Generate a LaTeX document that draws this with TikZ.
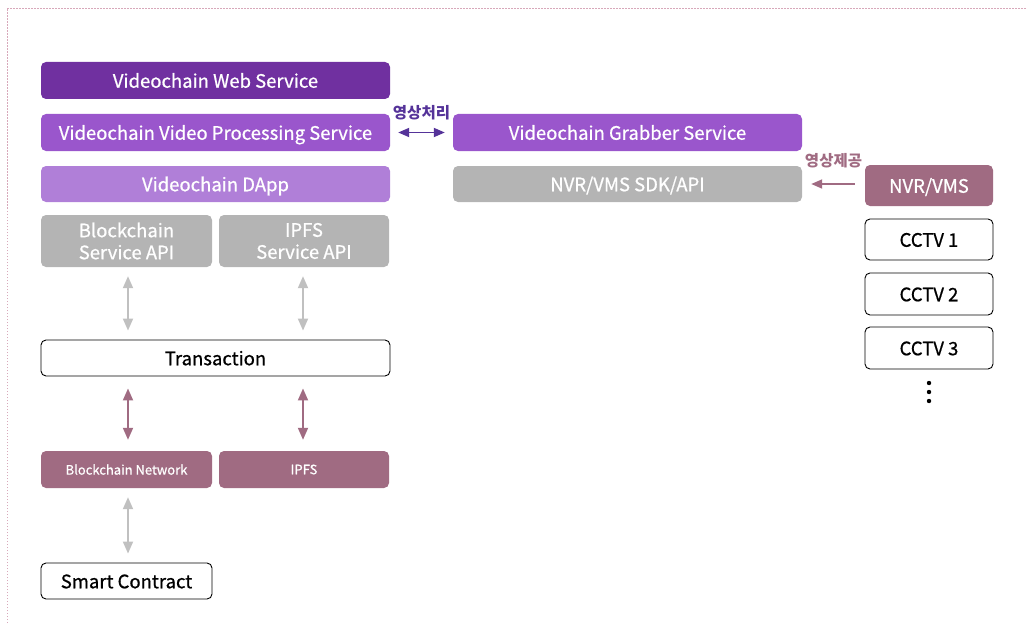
\documentclass[tikz,border=0pt]{standalone}
\usepackage{fontspec}
\setmainfont{Noto Sans CJK KR}
\newfontfamily\medfont{Noto Sans CJK KR}[FakeBold=0.7]
\usetikzlibrary{arrows.meta}
\definecolor{dpurple}{HTML}{7030A0}
\definecolor{mpurple}{HTML}{9A56CC}
\definecolor{lpurple}{HTML}{B07FD8}
\definecolor{boxgray}{HTML}{B4B4B4}
\definecolor{mauve}{HTML}{A06B82}
\definecolor{arrgray}{HTML}{C0C0C0}
\definecolor{labpurple}{HTML}{553399}
\definecolor{bordpink}{HTML}{D8A8BA}
\tikzset{
  base/.style={rounded corners=5pt, inner sep=0pt, align=center, font=\medfont\fontsize{18.5}{22}\selectfont},
  one/.style={text height=15pt, text depth=0.5pt},
  fillbox/.style={base, fill=#1, text=white},
  whitebox/.style={base, one, draw=black, line width=0.9pt, fill=white, text=black},
  smallbox/.style={base, fill=mauve, text=white, font=\medfont\fontsize{13}{16}\selectfont},
  grayarr/.style={draw=arrgray, line width=1.8pt, {Triangle[width=10pt,length=12pt]}-{Triangle[width=10pt,length=12pt]}, shorten <=9pt, shorten >=9pt},
  mauvearr/.style={draw=mauve, line width=1.8pt, {Triangle[width=10pt,length=12pt]}-{Triangle[width=10pt,length=12pt]}, shorten <=12pt, shorten >=11pt},
  lab/.style={font=\fontsize{15.5}{17}\selectfont\bfseries, inner sep=0pt}
}
\begin{document}
\begin{tikzpicture}[x=1pt,y=-1pt]
\useasboundingbox (0,0) rectangle (1027,623);
\draw[bordpink, line width=0.8pt, dash pattern=on 1.5pt off 1.5pt] (7,623) -- (7,8) -- (1027,8);

\node[fillbox=dpurple, one, minimum width=349pt, minimum height=37pt] (web) at (215.5,80.5) {Videochain Web Service};
\node[fillbox=mpurple, one, minimum width=349pt, minimum height=37pt] (vps) at (215.5,132.5) {Videochain Video Processing Service};
\node[fillbox=lpurple, one, minimum width=349pt, minimum height=36pt] (dapp) at (215.5,184) {Videochain DApp};
\node[fillbox=boxgray, minimum width=171pt, minimum height=52pt] (bsa) at (126.5,241) {Blockchain\\Service API};
\node[fillbox=boxgray, minimum width=170pt, minimum height=52pt] (isa) at (304,241) {IPFS\\Service API};
\node[whitebox, minimum width=349pt, minimum height=36pt] (tx) at (215.5,358) {Transaction};
\node[smallbox, minimum width=171pt, minimum height=37pt] (bcn) at (126.5,469.5) {Blockchain Network};
\node[smallbox, minimum width=170pt, minimum height=37pt] (ipfs) at (304,469.5) {IPFS};
\node[whitebox, minimum width=171pt, minimum height=36pt] (sc) at (126.5,581) {Smart Contract};

\node[fillbox=mpurple, one, minimum width=349pt, minimum height=37pt] (grab) at (627.5,132.5) {Videochain Grabber Service};
\node[fillbox=boxgray, one, minimum width=349pt, minimum height=36pt] (sdk) at (627.5,184) {NVR/VMS SDK/API};

\node[fillbox=mauve, one, minimum width=128pt, minimum height=41pt] (nvr) at (929,185.5) {NVR/VMS};
\node[whitebox, minimum width=128pt, minimum height=41pt] (c1) at (929,239.5) {CCTV 1};
\node[whitebox, minimum width=128pt, minimum height=42pt] (c2) at (929,294) {CCTV 2};
\node[whitebox, minimum width=128pt, minimum height=42pt] (c3) at (929,348) {CCTV 3};
\coordinate (dots) at (929,392);
\fill (dots) ++(0,-9) circle (2.2pt) (dots) circle (2.2pt) (dots) ++(0,9) circle (2.2pt);

\draw[grayarr] ([xshift=1.5pt]bsa.south) -- ([xshift=1.5pt]bsa.south |- tx.north);
\draw[grayarr] ([xshift=-1pt]isa.south) -- ([xshift=-1pt]isa.south |- tx.north);
\draw[mauvearr] ([xshift=1.5pt]bcn.north |- tx.south) -- ([xshift=1.5pt]bcn.north);
\draw[mauvearr] ([xshift=-1pt]ipfs.north |- tx.south) -- ([xshift=-1pt]ipfs.north);
\draw[grayarr] ([xshift=1.5pt]bcn.south) -- ([xshift=1.5pt]sc.north);

\draw[draw=labpurple, line width=1.8pt, {Triangle[width=9pt,length=11pt]}-{Triangle[width=9pt,length=11pt]}, shorten <=8pt, shorten >=8pt] (vps.east) -- (grab.west)
  node[midway, above=12pt, lab, text=labpurple] (l1) {영상처리};
\draw[draw=mauve, line width=1.8pt, -{Triangle[width=9pt,length=11pt]}, shorten <=10pt, shorten >=9pt] (sdk.east -| nvr.west) -- (sdk.east)
  node[midway, above=15pt, lab, text=mauve] (l2) {영상제공};
\end{tikzpicture}
\end{document}
